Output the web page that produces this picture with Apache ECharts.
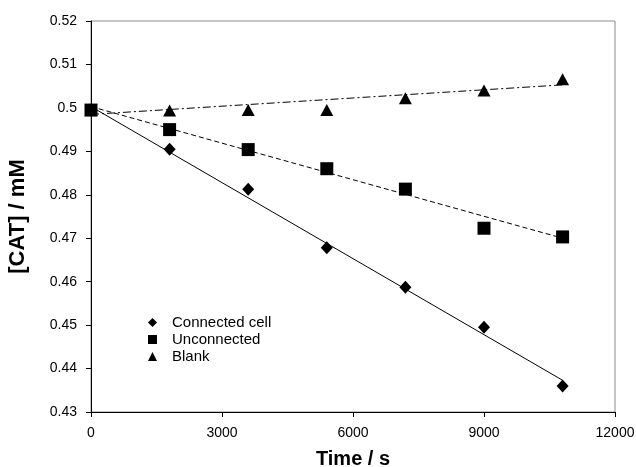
<!DOCTYPE html>
<html><head><meta charset="utf-8">
<script src="https://cdn.jsdelivr.net/npm/echarts@6/dist/echarts.min.js"></script>
<style>html,body{margin:0;padding:0;background:#fff}#c{width:636px;height:467px}</style>
</head><body><div id="c"></div>
<script>
const times = [0, 1800, 3600, 5400, 7200, 9000, 10800];
const connected = [0.4995, 0.4905, 0.4813, 0.4678, 0.4587, 0.4495, 0.4360];
const unconnected = [0.4995, 0.4950, 0.4904, 0.4860, 0.4813, 0.4723, 0.4703];
const blank = [0.4995, 0.4994, 0.4995, 0.4995, 0.5022, 0.5040, 0.5066];
const trendX = [0, 10800];
const connectedFit = [0.5003, 0.4373];
const unconnectedFit = [0.5003, 0.4700];
const blankFit = [0.4985, 0.5053];
const xTicks = [0, 3000, 6000, 9000, 12000];
const yTicks = [0.43, 0.44, 0.45, 0.46, 0.47, 0.48, 0.49, 0.5, 0.51, 0.52];

const pair = (xs, ys) => xs.map((x, i) => [x, ys[i]]);
const font = 'Liberation Sans, Arial, sans-serif';
const chart = echarts.init(document.getElementById('c'));
const fitStyle = (type) => ({
  type: 'line', showSymbol: false, symbol: 'none', silent: true,
  lineStyle: { color: '#000', width: 1, type: type }, z: 1
});
chart.setOption({
  animation: false,
  grid: { left: 91, right: 21, top: 21, bottom: 55, show: true, borderColor: '#8c8c8c', borderWidth: 1,
    containLabel: false, outerBoundsMode: 'none' },
  legend: {
    orient: 'vertical', left: 143, top: 310, itemGap: 2, itemWidth: 9, itemHeight: 9,
    textStyle: { fontFamily: font, fontSize: 15, color: '#000', padding: [0, 0, 0, 10] },
    data: [
      { name: 'Connected cell', icon: 'diamond', itemStyle: { color: '#000', opacity: 1 } },
      { name: 'Unconnected', icon: 'rect', itemStyle: { color: '#000', opacity: 1 } },
      { name: 'Blank', icon: 'triangle', itemStyle: { color: '#000', opacity: 1 } }
    ]
  },
  xAxis: {
    type: 'value', min: xTicks[0], max: xTicks[xTicks.length - 1], interval: 3000,
    name: 'Time / s', nameLocation: 'middle', nameGap: 37,
    nameTextStyle: { fontFamily: font, fontSize: 20, fontWeight: 'bold', color: '#000' },
    axisLine: { lineStyle: { color: '#000' } },
    axisTick: { show: true, length: 5, lineStyle: { color: '#000' } },
    axisLabel: { fontFamily: font, fontSize: 14, color: '#000', margin: 14,
      formatter: v => String(v) },
    splitLine: { show: false }
  },
  yAxis: {
    type: 'value', min: yTicks[0], max: yTicks[yTicks.length - 1], interval: 0.01,
    name: '[CAT] / mM', nameLocation: 'middle', nameGap: 62,
    nameTextStyle: { fontFamily: font, fontSize: 22, fontWeight: 'bold', color: '#000' },
    axisLine: { show: true, lineStyle: { color: '#000' } },
    axisTick: { show: true, length: 5, lineStyle: { color: '#000' } },
    axisLabel: { fontFamily: font, fontSize: 14, color: '#000', margin: 14,
      formatter: v => String(+v.toFixed(2)) },
    splitLine: { show: false }
  },
  series: [
    Object.assign(fitStyle('solid'), { name: 'fit1', data: pair(trendX, connectedFit) }),
    Object.assign(fitStyle([5, 3]), { name: 'fit2', data: pair(trendX, unconnectedFit) }),
    Object.assign(fitStyle([8, 3, 2, 3]), { name: 'fit3', data: pair(trendX, blankFit) }),
    { name: 'Blank', type: 'scatter', symbol: 'triangle', symbolSize: [13, 12],
      itemStyle: { color: '#000', opacity: 1 }, data: pair(times, blank), z: 3 },
    { name: 'Unconnected', type: 'scatter', symbol: 'rect', symbolSize: 13,
      itemStyle: { color: '#000', opacity: 1 }, data: pair(times, unconnected), z: 4 },
    { name: 'Connected cell', type: 'scatter', symbol: 'diamond', symbolSize: [12, 13],
      itemStyle: { color: '#000', opacity: 1 }, data: pair(times, connected), z: 5 }
  ]
});
</script></body></html>
